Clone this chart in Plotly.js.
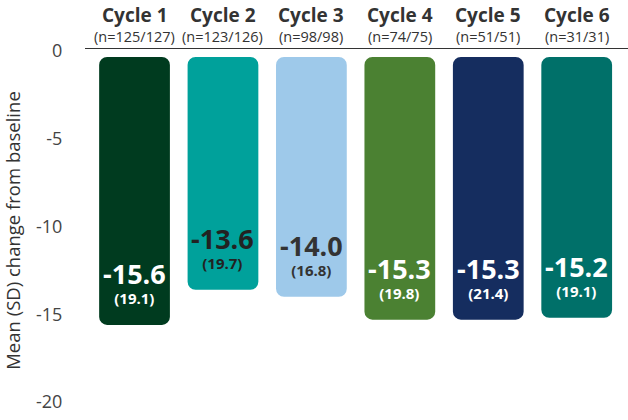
<!DOCTYPE html>
<html>
<head>
<meta charset="utf-8">
<script src="https://cdn.plot.ly/plotly-3.0.1.min.js"></script>
<style>
  html, body { margin: 0; padding: 0; background: #fff; }
  #chart { width: 628px; height: 420px; }
</style>
</head>
<body>
<div id="chart"></div>
<script>
// data
const cycles = ['Cycle 1', 'Cycle 2', 'Cycle 3', 'Cycle 4', 'Cycle 5', 'Cycle 6'];
const nLabels = ['(n=125/127)', '(n=123/126)', '(n=98/98)', '(n=74/75)', '(n=51/51)', '(n=31/31)'];
const means = [-15.6, -13.6, -14.0, -15.3, -15.3, -15.2];
const sds = [19.1, 19.7, 16.8, 19.8, 21.4, 19.1];
const yTicks = [0, -5, -10, -15, -20];

const barColors = ['#003b1f', '#00a19b', '#9ec9ea', '#4b8132', '#152d5f', '#007069'];
const textColors = ['#ffffff', '#222222', '#333333', '#ffffff', '#ffffff', '#ffffff'];
const FONT = 'Open Sans, Noto Sans, sans-serif';
const gap = -0.34; // bars start a little under the zero line

const xs = cycles.map((c, i) => i);

let trace = {
    type: 'bar',
    x: xs,
    y: means.map(v => v - gap),
    base: gap,
    width: 0.8,
    marker: { color: barColors, line: { width: 0 } },
    hoverinfo: 'skip'
};

let annotations = [];
cycles.forEach((c, i) => {
    annotations.push({ x: i, y: 1.093, xref: 'x', yref: 'paper', text: '<b>' + c + '</b>',
        showarrow: false, yanchor: 'middle', font: { family: FONT, size: 19, color: '#333' } });
    annotations.push({ x: i, y: 1.035, xref: 'x', yref: 'paper', text: nLabels[i],
        showarrow: false, yanchor: 'middle', font: { family: FONT, size: 14.5, color: '#333' } });
    // mean with SD underneath, one text block
    annotations.push({ x: i, y: means[i], xref: 'x', yref: 'y',
        text: '<span style="font-size:27px"><b>' + means[i].toFixed(1) + '</b></span><br><b>(' + sds[i].toFixed(1) + ')</b>',
        showarrow: false, yanchor: 'bottom', yshift: 15,
        font: { family: FONT, size: 15, color: textColors[i] } });
});

let layout = {
    width: 628, height: 420,
    margin: { t: 49, l: 85, r: 0, b: 8 },
    paper_bgcolor: '#fff', plot_bgcolor: '#fff',
    showlegend: false,
    barcornerradius: 8,
    xaxis: {
        range: [-0.56, 5.58], side: 'top', showticklabels: false, ticks: '',
        showgrid: false, zeroline: false, showline: true, linecolor: '#333', linewidth: 1.5
    },
    yaxis: {
        range: [-20.56, 0.11], tickvals: yTicks, ticktext: yTicks.map(String),
        showgrid: false, zeroline: false, showline: false,
        ticks: 'outside', ticklen: 18, tickcolor: 'rgba(0,0,0,0)',
        tickfont: { family: FONT, size: 18, color: '#444' },
        title: { text: 'Mean (SD) change from baseline', standoff: 14,
                 font: { family: FONT, size: 18.5, color: '#333' } }
    },
    annotations: annotations
};

Plotly.newPlot('chart', [trace], layout, { displayModeBar: false, staticPlot: true });
</script>
</body>
</html>
